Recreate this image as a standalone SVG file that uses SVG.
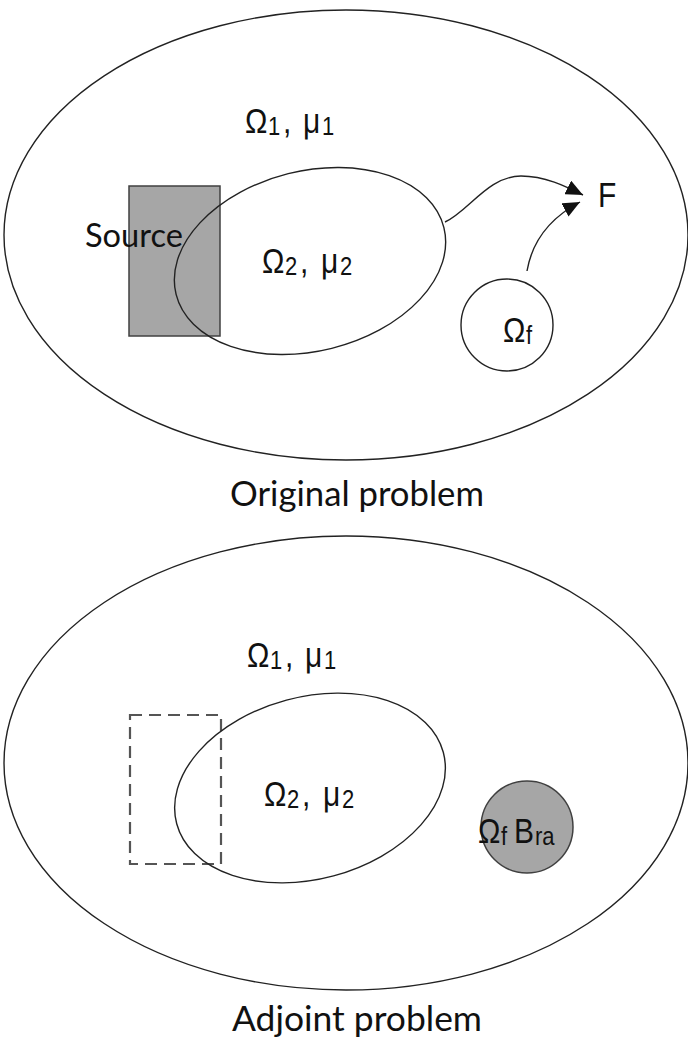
<svg xmlns="http://www.w3.org/2000/svg" width="688" height="1047" viewBox="0 0 688 1047">
<style>
.ln{fill:none;stroke:#222;stroke-width:1.4}
.gray{fill:#a6a6a6;stroke:#404040;stroke-width:1.5}
.dash{fill:none;stroke:#555;stroke-width:2.2;stroke-dasharray:12 7}
.g{font-family:"Liberation Sans",Arial,sans-serif;font-size:30px;fill:#111}
.s{font-size:22px}
.c{font-family:Lato,"Open Sans",sans-serif;fill:#111}
</style>
<defs>
<marker id="ah" markerUnits="userSpaceOnUse" markerWidth="17" markerHeight="15" refX="17" refY="7.5" orient="auto">
<path d="M0,0 L17,7.5 L0,15 z" fill="#111"/>
</marker>
</defs>
<rect width="688" height="1047" fill="#fff"/>

<g id="original">
<g id="omega1-top">
<ellipse class="ln" cx="346" cy="235" rx="342" ry="225"/>
<text class="g" transform="translate(0,133) scale(1,1.15)"><tspan x="245" y="0">Ω</tspan><tspan class="s" x="268" y="2">1</tspan><tspan x="283" y="0">,</tspan><tspan x="303" y="0">μ</tspan><tspan class="s" x="322" y="2">1</tspan></text>
</g>
<g id="source">
<rect class="gray" x="129" y="186" width="91" height="150"/>
<text class="c" x="85" y="247" font-size="33" textLength="98" lengthAdjust="spacingAndGlyphs">Source</text>
</g>
<g id="omega2-top">
<ellipse class="ln" cx="310" cy="261" rx="138" ry="90" transform="rotate(-14 310 261)"/>
<text class="g" transform="translate(0,273) scale(1,1.15)"><tspan x="262" y="0">Ω</tspan><tspan class="s" x="285" y="2">2</tspan><tspan x="300" y="0">,</tspan><tspan x="321" y="0">μ</tspan><tspan class="s" x="340" y="2">2</tspan></text>
</g>
<g id="omegaf-top">
<circle class="ln" cx="507" cy="325" r="46"/>
<text class="g" transform="translate(0,342) scale(1,1.15)"><tspan x="503" y="0">Ω</tspan><tspan class="s" x="526" y="2">f</tspan></text>
</g>
<g id="F">
<text class="g" transform="translate(0,207) scale(1,1.15)" x="598" y="0">F</text>
</g>
<text class="c" x="230" y="506" font-size="34" textLength="254" lengthAdjust="spacingAndGlyphs">Original problem</text>
</g>

<g id="connectors">
<path class="ln" d="M445,222 C468,212 488,176 521,176 C545,176 565,186 583,195" marker-end="url(#ah)"/>
<path class="ln" d="M527,271 C532,242 550,218 580,202" marker-end="url(#ah)"/>
</g>

<g id="adjoint">
<g id="omega1-bottom">
<ellipse class="ln" cx="346" cy="763" rx="342" ry="227"/>
<text class="g" transform="translate(0,667) scale(1,1.15)"><tspan x="247" y="0">Ω</tspan><tspan class="s" x="270" y="2">1</tspan><tspan x="285" y="0">,</tspan><tspan x="305" y="0">μ</tspan><tspan class="s" x="324" y="2">1</tspan></text>
</g>
<g id="source-region">
<rect class="dash" x="130" y="715" width="91" height="149"/>
</g>
<g id="omega2-bottom">
<ellipse class="ln" cx="310" cy="788" rx="138" ry="91" transform="rotate(-15 310 788)"/>
<text class="g" transform="translate(0,806) scale(1,1.15)"><tspan x="264" y="0">Ω</tspan><tspan class="s" x="287" y="2">2</tspan><tspan x="302" y="0">,</tspan><tspan x="323" y="0">μ</tspan><tspan class="s" x="342" y="2">2</tspan></text>
</g>
<g id="omegaf-bottom">
<circle class="gray" cx="527" cy="827" r="46"/>
<text class="g" transform="translate(0,843) scale(1,1.15)"><tspan x="478" y="0">Ω</tspan><tspan class="s" x="501" y="2">f</tspan><tspan x="514" y="0">B</tspan><tspan class="s" x="535" y="2">ra</tspan></text>
</g>
<text class="c" x="232" y="1031" font-size="34" textLength="250" lengthAdjust="spacingAndGlyphs">Adjoint problem</text>
</g>
</svg>
